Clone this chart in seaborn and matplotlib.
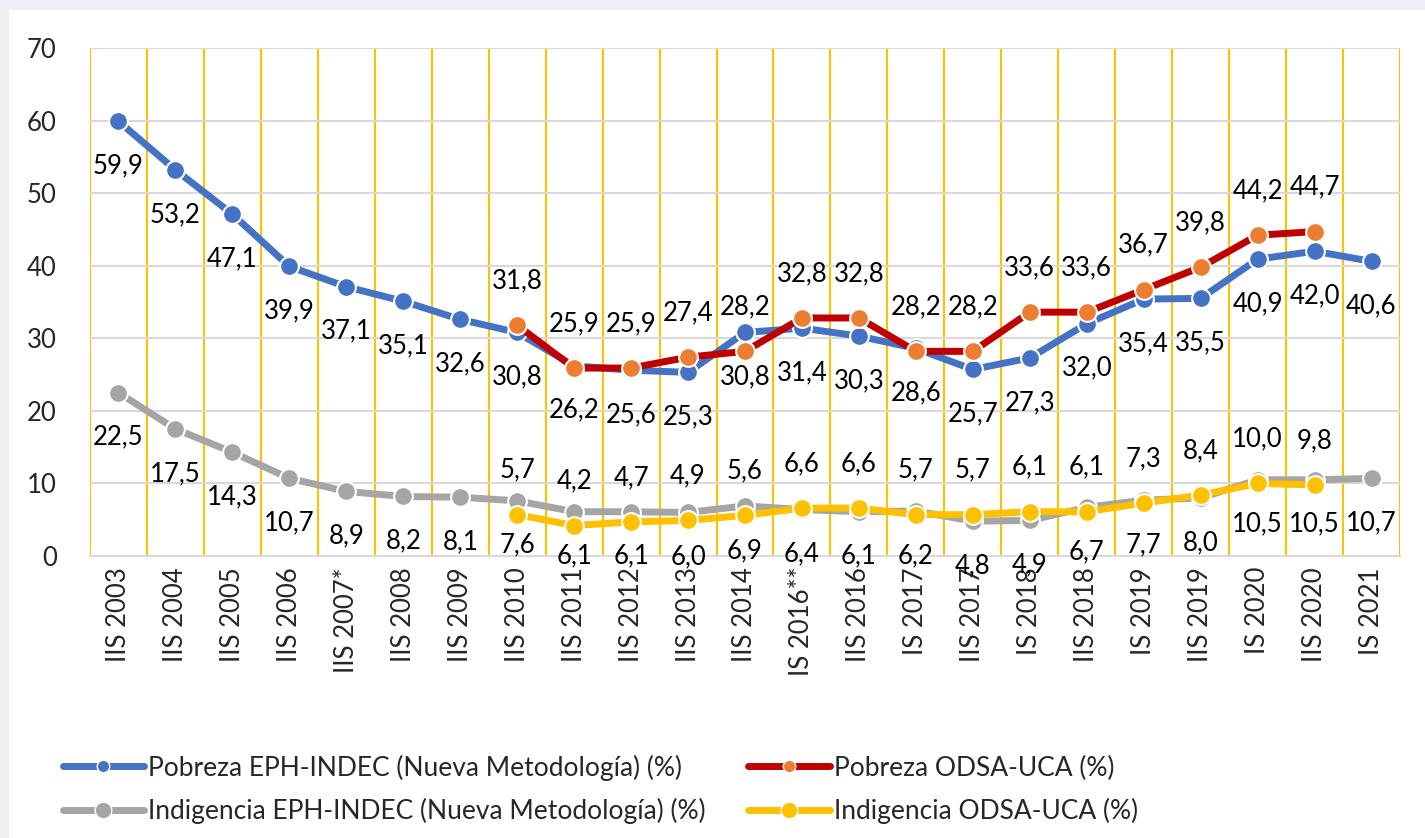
import numpy as np
import pandas as pd
import matplotlib
matplotlib.use("Agg")
import matplotlib.pyplot as plt
import seaborn as sns

categories = ["IIS 2003", "IIS 2004", "IIS 2005", "IIS 2006", "IIS 2007*", "IIS 2008",
              "IIS 2009", "IIS 2010", "IIS 2011", "IIS 2012", "IIS 2013", "IIS 2014",
              "IS 2016**", "IIS 2016", "IS 2017", "IIS 2017", "IS 2018", "IIS 2018",
              "IS 2019", "IIS 2019", "IS 2020", "IIS 2020", "IS 2021"]

pobreza_eph = [59.9, 53.2, 47.1, 39.9, 37.1, 35.1, 32.6, 30.8, 26.2, 25.6, 25.3, 30.8,
               31.4, 30.3, 28.6, 25.7, 27.3, 32.0, 35.4, 35.5, 40.9, 42.0, 40.6]
pobreza_odsa = [np.nan, np.nan, np.nan, np.nan, np.nan, np.nan, np.nan, 31.8, 25.9, 25.9,
                27.4, 28.2, 32.8, 32.8, 28.2, 28.2, 33.6, 33.6, 36.7, 39.8, 44.2, 44.7, np.nan]
indigencia_eph = [22.5, 17.5, 14.3, 10.7, 8.9, 8.2, 8.1, 7.6, 6.1, 6.1, 6.0, 6.9,
                  6.4, 6.1, 6.2, 4.8, 4.9, 6.7, 7.7, 8.0, 10.5, 10.5, 10.7]
indigencia_odsa = [np.nan, np.nan, np.nan, np.nan, np.nan, np.nan, np.nan, 5.7, 4.2, 4.7,
                   4.9, 5.6, 6.6, 6.6, 5.7, 5.7, 6.1, 6.1, 7.3, 8.4, 10.0, 9.8, np.nan]

series_names = ["Pobreza EPH-INDEC (Nueva Metodología) (%)",
                "Pobreza ODSA-UCA (%)",
                "Indigencia EPH-INDEC (Nueva Metodología) (%)",
                "Indigencia ODSA-UCA (%)"]

sns.set_theme(style="white")
plt.rcParams["font.family"] = ["Lato", "DejaVu Sans"]

FS = 18.5

fig = plt.figure(figsize=(14.25, 8.38), dpi=100)
fig.patch.set_facecolor("#EEEEF4")
fig.patches.append(plt.Rectangle((9 / 1425, 0), 1 - 9 / 1425, 1 - 10 / 838,
                                 transform=fig.transFigure, facecolor="white",
                                 edgecolor="none", zorder=-10))
ax = fig.add_axes([90 / 1425, 1 - 556 / 838, (1400 - 90) / 1425, (556 - 48) / 838])
ax.set_facecolor("none")

x = np.arange(len(categories))
df = pd.DataFrame({"x": x, "pe": pobreza_eph, "po": pobreza_odsa,
                   "ie": indigencia_eph, "io": indigencia_odsa})

specs = [
    ("pe", series_names[0], "#4472C4", "#4472C4", 1, 3, 9),
    ("po", series_names[1], "#C00000", "#ED7D31", -1, 4, 9),
    ("ie", series_names[2], "#A5A5A5", "#A5A5A5", 1, 3, 12),
    ("io", series_names[3], "#FFC000", "#FFC000", -1, 4, 12),
]

handles = {}
for col, name, lc, mc, side, z, lms in specs:
    sub = df[["x", col]].dropna()
    sns.lineplot(data=sub, x="x", y=col, ax=ax, color=lc, linewidth=5,
                 marker="o", markersize=13.5, markerfacecolor=mc,
                 markeredgecolor="white", markeredgewidth=1.5,
                 zorder=z, label=name, legend=False, sort=False)
    for xi, v in zip(sub["x"], sub[col]):
        ax.annotate(f"{v:.1f}".replace(".", ","), (xi, v),
                    xytext=(0, -32 * side), textcoords="offset points",
                    ha="center", va="center", fontsize=FS, color="black",
                    zorder=6)
    handles[name] = plt.Line2D([], [], color=lc, linewidth=5, marker="o",
                               markersize=lms, markerfacecolor=mc,
                               markeredgecolor="white", markeredgewidth=1.0)

ax.set_xlim(-0.5, len(categories) - 0.5)
ax.set_ylim(0, 70)
ax.set_yticks(np.arange(0, 71, 10))
ax.set_xticks(x)
ax.set_xticklabels(categories, rotation=90, fontsize=FS)
ax.tick_params(axis="y", labelsize=FS, pad=24, length=0)
ax.tick_params(axis="x", length=0, pad=8)
ax.set_xlabel("")
ax.set_ylabel("")

for yv in np.arange(10, 71, 10):
    ax.axhline(yv, color="#D9D9D9", linewidth=1.5, zorder=1)
for b in np.arange(-0.5, len(categories), 1.0):
    ax.axvline(b, color="#FFC000", linewidth=1.5, zorder=0.5)

for s in ["top", "right", "left"]:
    ax.spines[s].set_visible(False)
ax.spines["bottom"].set_color("#D9D9D9")
ax.spines["bottom"].set_linewidth(1.5)
ax.spines["bottom"].set_zorder(1)

order = [series_names[0], series_names[2], series_names[1], series_names[3]]
fig.legend([handles[n] for n in order], order, ncol=2, frameon=False,
           loc="upper left", bbox_to_anchor=(52 / 1425, 1 - 744 / 838),
           fontsize=19, handlelength=3.1, columnspacing=1.6,
           labelspacing=0.65, handletextpad=0.15, borderaxespad=0)

fig.savefig("out.png", dpi=100, facecolor=fig.get_facecolor())
